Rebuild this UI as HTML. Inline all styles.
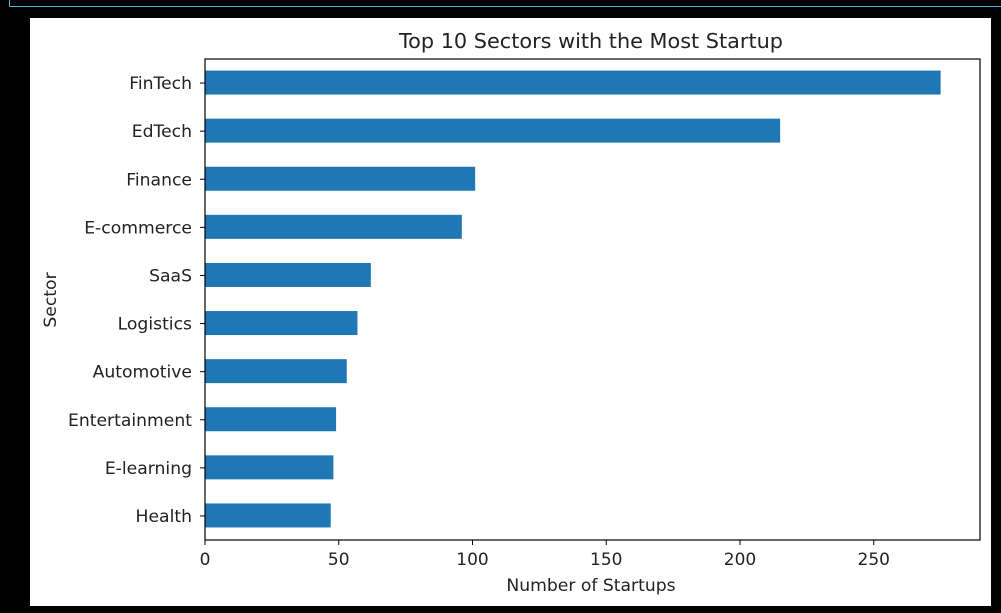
<!DOCTYPE html>
<html><head><meta charset="utf-8"><style>
body{margin:0;background:#000;width:1001px;height:613px;overflow:hidden;font-family:"Liberation Sans","DejaVu Sans",sans-serif}
</style></head><body>
<svg width="1001" height="613" style="position:absolute;left:0;top:0">
<line x1="9.5" y1="0" x2="9.5" y2="6.5" stroke="#5bb0de"/>
<line x1="9.5" y1="6.5" x2="1001" y2="6.5" stroke="#5bb0de"/>
<rect x="30" y="18" width="961" height="588" fill="#fff"/>
<text x="591" y="48" text-anchor="middle" font-size="20.8" fill="#222" font-family="DejaVu Sans, sans-serif">Top 10 Sectors with the Most Startup</text>
<g id="bars"></g>
<g id="ticks"></g>
<rect x="205" y="59" width="775" height="481" fill="none" stroke="#000" stroke-width="1.2"/>
<text x="591" y="591" text-anchor="middle" font-size="17.2" fill="#222" font-family="DejaVu Sans, sans-serif">Number of Startups</text>
<text transform="translate(56,300) rotate(-90)" text-anchor="middle" font-size="17.2" fill="#222" font-family="DejaVu Sans, sans-serif">Sector</text>
</svg>
<script>
const categories=["FinTech","EdTech","Finance","E-commerce","SaaS","Logistics","Automotive","Entertainment","E-learning","Health"];
const values=[275,215,101,96,62,57,53,49,48,47];
const xTicks=[0,50,100,150,200,250];
const NS="http://www.w3.org/2000/svg";
const x0=205,pxPer=2.675,plotTop=59,step=48.1;
const xs=v=>x0+v*pxPer;
const ys=i=>plotTop+step*(i+0.5);
const bars=document.getElementById('bars'),ticks=document.getElementById('ticks');
function mk(tag,attrs,parent){const e=document.createElementNS(NS,tag);for(const k in attrs)e.setAttribute(k,attrs[k]);parent.appendChild(e);return e;}
categories.forEach((c,i)=>{
  const r=mk('rect',{x:xs(0),y:ys(i)-12.5,width:xs(values[i])-xs(0),height:24,fill:'#1f77b4'},bars);
  
  
  const l=mk('line',{x1:x0-5,x2:x0,y1:ys(i),y2:ys(i),stroke:'#000'},ticks);
  
  
  const t=mk('text',{x:x0-13,y:ys(i)+6,'text-anchor':'end','font-size':17.2,fill:'#222','font-family':'DejaVu Sans, sans-serif'},ticks);
  t.textContent=c;
  
  
});
xTicks.forEach(v=>{
  const l=mk('line',{x1:xs(v),x2:xs(v),y1:540,y2:545,stroke:'#000'},ticks);
  
  
  const t=mk('text',{x:xs(v),y:565,'text-anchor':'middle','font-size':17,fill:'#222','font-family':'DejaVu Sans, sans-serif'},ticks);
  t.textContent=v;
  
  
});
</script>
</body></html>
